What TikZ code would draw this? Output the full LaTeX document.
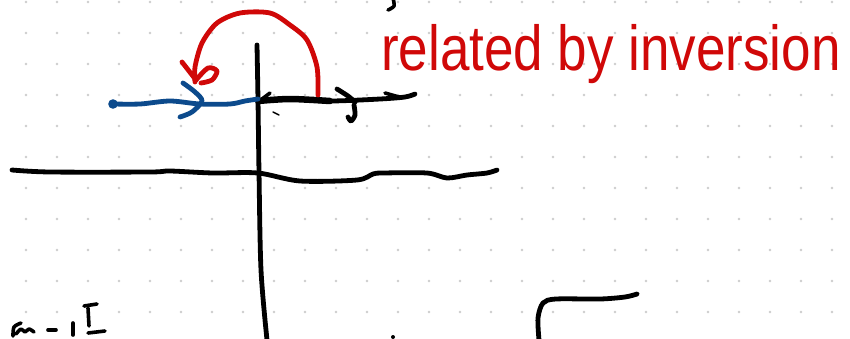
\documentclass[tikz,border=0pt]{standalone}
\usepackage{fontspec}
\setmainfont{Liberation Sans}
\definecolor{inkred}{RGB}{208,8,8}
\definecolor{inkblue}{RGB}{12,74,140}
\definecolor{griddot}{RGB}{205,205,205}
\tikzset{
  pen/.style={line width=4.8pt, line cap=round, line join=round},
  thinpen/.style={line width=3.6pt, line cap=round, line join=round},
  dotgrid/.style={fill=griddot},
}
\begin{document}
\begin{tikzpicture}[x=1pt,y=-1pt]
\useasboundingbox (0,0) rectangle (850,338);
\fill[white] (0,0) rectangle (850,338);
\clip (0,0) rectangle (850,338);

% dotted notebook grid
\foreach \i in {0,...,26}
  \foreach \j in {0,...,10}
    \fill[dotgrid] (26+31*\i, 2+31*\j) circle (1.4);

% vertical axis
\draw[pen] plot[smooth] coordinates {(257,45) (258,100) (259,172) (261,270) (267,340)};

% horizontal axis
\draw[pen] plot[smooth] coordinates {(12,170) (50,172) (150,172) (170,171) (213,173) (258,173)
  (300,181) (357,180) (373,174) (383,173) (427,173) (447,178) (467,175) (487,173) (497,170)};

% black ray to the right of the origin
\draw[line width=6.5pt, line cap=round] plot[smooth] coordinates {(258,101) (290,99) (330,101)};
\draw[pen] plot[smooth] coordinates {(258,101) (290,99) (330,101) (380,99) (405,97) (415,94)};
\draw[thinpen] (262,99) -- (270,93);
\draw[line width=1.5pt, line cap=round] (273,112) -- (279,115);
% chevron with hook on the ray
\draw[pen] plot[smooth] coordinates {(337,89) (348,96) (355,102)};
\draw[pen] plot[smooth] coordinates {(354,105) (355,115) (351,121) (348,117)};
\draw[thinpen] (385,93) -- (399,97);

% blue ray from the left with arrow
\fill[inkblue] (113,104) circle (4.8);
\node[coordinate] (bstart) at (113,104) {};
\node[coordinate] (origin) at (258,99) {};
\draw[pen, inkblue] plot[smooth] coordinates {(bstart) (140,104) (170,101) (200,104) (230,104) (245,101) (origin)};
\draw[pen, inkblue] plot[smooth] coordinates {(183,83) (195,92) (202,101) (192,112) (180,117)};

% red arc showing the inversion
\draw[pen, inkred] plot[smooth] coordinates {(318,95) (317,67) (307,40) (290,25) (270,13) (240,13)
  (217,23) (202,43) (195,67) (195,82)};
\draw[pen, inkred] (182,62) -- (196,80);
\draw[pen, inkred] plot[smooth] coordinates {(196,80) (208,68) (217,71) (212,80) (201,83)};

\node[anchor=base west, inner sep=0pt, text=inkred, yscale=1.2,
  font=\fontsize{53}{60}\selectfont] (label) at (381,70) {related by inversion};

% small stroke at the top edge
\draw[thinpen] plot[smooth] coordinates {(393,-2) (394,6) (388,10)};

% bottom-left fragment of a formula
\draw[thinpen] plot[smooth] coordinates {(21,323) (14,327) (13,336)};
\draw[thinpen] plot[smooth] coordinates {(16,334) (21,329) (25,332) (29,329) (34,332)};
\draw[thinpen] (48,330) -- (56,330);
\draw[thinpen] (73,323) -- (73,335);
\draw[thinpen] (84,306) -- (97,304);
\draw[thinpen] (88,308) -- (89,326);
\draw[thinpen] (88,333) -- (105,331);

% bottom marks
\fill (393,337) circle (2);
\draw[pen] plot[smooth] coordinates {(539,340) (538,318) (543,303) (556,299) (600,299) (625,297) (637,294)};
\end{tikzpicture}
\end{document}
